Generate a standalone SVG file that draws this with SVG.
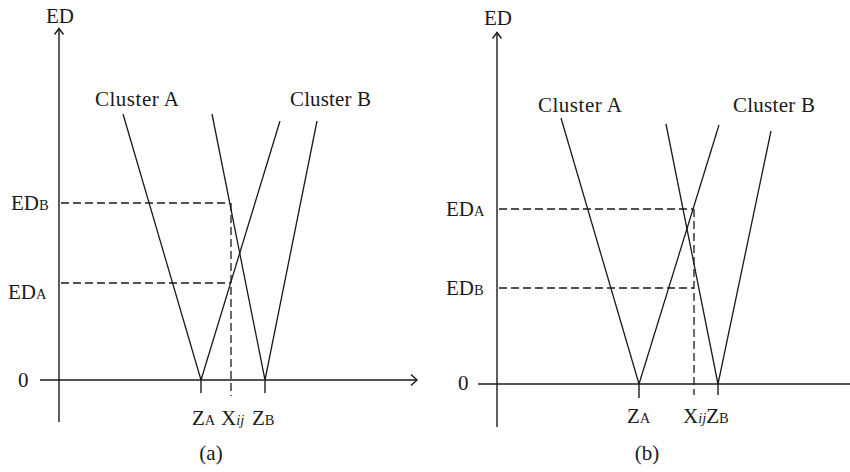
<svg xmlns="http://www.w3.org/2000/svg" width="850" height="472" viewBox="0 0 850 472">
<style>
  .ln { stroke: #1a1a1a; stroke-width: 1.3; fill: none; }
  .ax { stroke: #1a1a1a; stroke-width: 1.4; fill: none; }
  .ds { stroke: #1a1a1a; stroke-width: 1.3; fill: none; stroke-dasharray: 8 4; }
  text { font-family: "Liberation Serif", "Times New Roman", serif; font-size: 21px; fill: #1a1a1a; }
  .sub { font-size: 14.5px; }
  .it { font-style: italic; }
</style>
<rect width="850" height="472" fill="#ffffff"/>

<!-- Panel (a) -->
<g id="panel-a-axes">
  <line class="ax" x1="59" y1="28.5" x2="59" y2="422"/>
  <polyline class="ax" points="54.5,34.5 59,28.5 63.5,34.5"/>
  <line class="ax" x1="40" y1="380" x2="417" y2="380"/>
  <polyline class="ax" points="411,374.5 417,380 411,385.5"/>
  <line class="ax" x1="201" y1="380" x2="201" y2="393"/>
  <line class="ax" x1="265" y1="380" x2="265" y2="393"/>
</g>
<g id="panel-a-connectors">
  <line class="ln" x1="123" y1="114" x2="201" y2="380"/>
  <line class="ln" x1="212" y1="114" x2="265" y2="380"/>
  <line class="ln" x1="280" y1="121" x2="201" y2="380"/>
  <line class="ln" x1="317" y1="121" x2="265" y2="380"/>
  <line class="ds" x1="61" y1="203" x2="230" y2="203"/>
  <line class="ds" x1="231" y1="203" x2="231" y2="396"/>
  <line class="ds" x1="61" y1="283" x2="231" y2="283"/>
</g>
<g id="panel-a-labels">
  <text x="60" y="23" text-anchor="middle">ED</text>
  <text x="95" y="106" textLength="84" lengthAdjust="spacing">Cluster A</text>
  <text x="290" y="106" textLength="81" lengthAdjust="spacing">Cluster B</text>
  <text x="11" y="210">ED<tspan class="sub">B</tspan></text>
  <text x="8" y="299">ED<tspan class="sub">A</tspan></text>
  <text x="18" y="387">0</text>
  <text x="192" y="425">Z<tspan class="sub">A</tspan></text>
  <text x="221" y="425">X<tspan class="sub it">ij</tspan></text>
  <text x="252" y="425">Z<tspan class="sub">B</tspan></text>
  <text x="211" y="460" text-anchor="middle">(a)</text>
</g>

<!-- Panel (b) -->
<g id="panel-b-axes">
  <line class="ax" x1="497" y1="32.5" x2="497" y2="427"/>
  <polyline class="ax" points="492.5,38.5 497,32.5 501.5,38.5"/>
  <line class="ax" x1="478" y1="384" x2="850" y2="384"/>
  <line class="ax" x1="639" y1="384" x2="639" y2="398"/>
  <line class="ax" x1="718" y1="384" x2="718" y2="395"/>
</g>
<g id="panel-b-connectors">
  <line class="ln" x1="561" y1="118" x2="639" y2="384"/>
  <line class="ln" x1="666" y1="124" x2="718" y2="384"/>
  <line class="ln" x1="719" y1="125" x2="639" y2="384"/>
  <line class="ln" x1="771" y1="131" x2="718" y2="384"/>
  <line class="ds" x1="499" y1="209" x2="693" y2="209"/>
  <line class="ds" x1="694" y1="209" x2="694" y2="395"/>
  <line class="ds" x1="499" y1="288" x2="694" y2="288"/>
</g>
<g id="panel-b-labels">
  <text x="498" y="25" text-anchor="middle">ED</text>
  <text x="538" y="112" textLength="84" lengthAdjust="spacing">Cluster A</text>
  <text x="733" y="112" textLength="82" lengthAdjust="spacing">Cluster B</text>
  <text x="446" y="216">ED<tspan class="sub">A</tspan></text>
  <text x="446" y="295">ED<tspan class="sub">B</tspan></text>
  <text x="458" y="390">0</text>
  <text x="627" y="423">Z<tspan class="sub">A</tspan></text>
  <text x="683" y="423">X<tspan class="sub it">ij</tspan>Z<tspan class="sub">B</tspan></text>
  <text x="647" y="460" text-anchor="middle">(b)</text>
</g>
</svg>
